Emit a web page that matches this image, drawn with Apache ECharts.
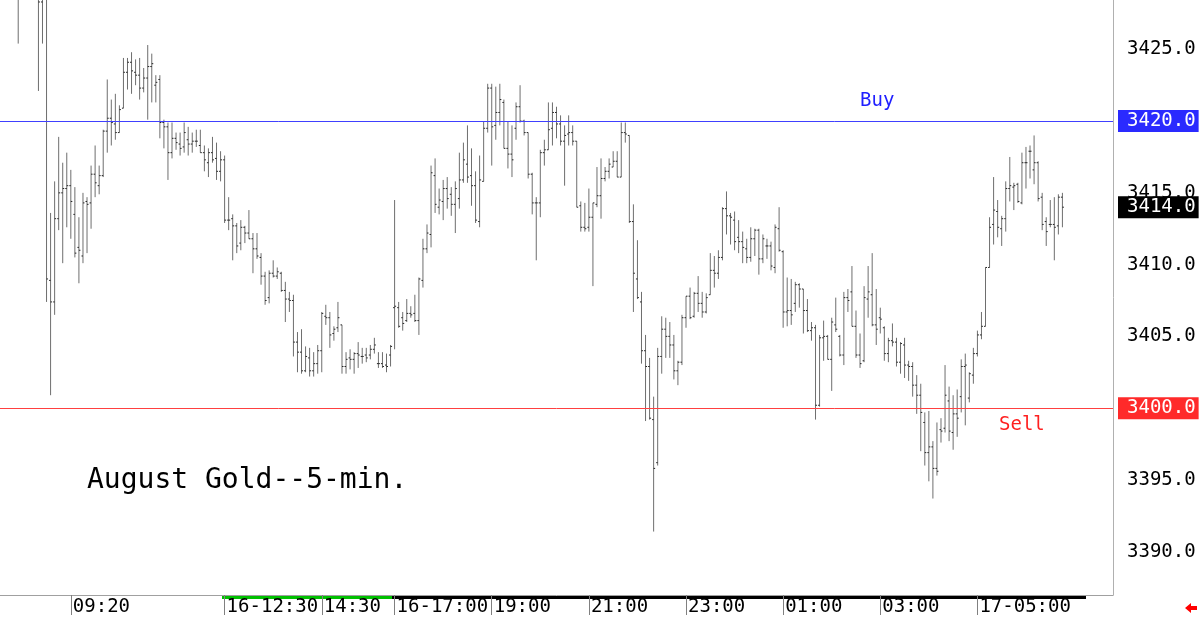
<!DOCTYPE html>
<html><head><meta charset="utf-8">
<script src="https://cdn.jsdelivr.net/npm/echarts@6/dist/echarts.min.js"></script>
<style>html,body{margin:0;padding:0;background:#fff}#c{width:1200px;height:617px}</style>
</head><body><div id="c"></div>
<script>
// ---- data (5-minute OHLC bars) ----
const opens = [
3429.5,3429.0,3430.5,3431.0,3430.2,3428.9,3428.3,3429.0,3408.9,3407.4,
3413.2,3415.0,3415.3,3415.5,3413.5,3411.2,3410.6,3414.4,3414.3,3416.3,
3415.5,3416.2,3419.3,3420.2,3419.8,3419.2,3420.9,3423.4,3424.1,3423.4,
3423.2,3422.3,3423.0,3423.8,3422.5,3422.9,3419.9,3419.6,3417.8,3418.8,
3418.4,3418.2,3418.7,3418.4,3418.6,3418.3,3417.8,3417.1,3417.8,3417.4,
3416.5,3417.3,3413.1,3413.2,3412.7,3411.5,3412.6,3412.2,3411.8,3411.1,
3410.5,3409.2,3407.7,3409.4,3409.2,3409.4,3408.2,3407.6,3407.5,3404.6,
3403.9,3402.6,3403.5,3402.6,3403.1,3404.0,3406.4,3406.3,3405.2,3405.6,
3405.8,3402.9,3403.5,3403.4,3403.8,3403.6,3403.7,3403.7,3404.1,3403.1,
3403.1,3403.0,3403.7,3407.0,3407.0,3406.3,3406.1,3406.6,3406.6,3406.1,
3408.9,3411.1,3412.1,3416.2,3414.0,3414.4,3415.3,3414.9,3414.2,3414.6,
3415.9,3417.0,3416.2,3415.5,3413.0,3415.8,3419.5,3422.3,3419.7,3420.6,
3421.3,3418.1,3417.7,3419.5,3421.0,3420.0,3419.2,3416.3,3414.3,3414.3,
3417.8,3418.0,3419.5,3420.6,3419.8,3418.6,3419.1,3419.2,3418.6,3414.1,
3412.6,3412.6,3413.3,3414.2,3414.8,3416.0,3416.5,3416.8,3417.2,3416.1,
3419.2,3419.0,3413.0,3409.0,3407.4,3404.0,3402.9,3399.2,3396.2,3403.6,
3405.5,3405.0,3404.4,3402.6,3403.2,3406.3,3407.8,3406.4,3408.0,3407.3,
3406.7,3407.9,3409.6,3409.4,3410.5,3413.9,3413.4,3413.1,3411.9,3411.6,
3411.1,3410.5,3411.8,3412.4,3410.4,3411.3,3411.3,3409.8,3412.5,3410.9,
3406.7,3406.8,3407.3,3408.6,3408.3,3406.8,3405.4,3405.6,3400.2,3404.9,
3405.0,3403.4,3405.8,3405.0,3403.7,3407.7,3408.1,3405.7,3403.7,3403.3,
3407.6,3407.9,3405.8,3406.3,3405.6,3403.8,3404.7,3404.6,3403.2,3404.4,
3403.0,3402.9,3401.6,3400.9,3399.0,3396.9,3397.3,3395.8,3398.5,3398.6,
3400.5,3398.3,3399.6,3400.8,3402.9,3400.7,3402.3,3403.8,3405.1,3405.7,
3409.8,3412.8,3413.7,3412.5,3413.2,3415.3,3415.4,3415.6,3414.3,3417.1,
3417.9,3416.6,3417.1,3414.7,3413.0,3412.8,3412.8,3412.7,3414.7
];
const highs = [
3431.0,3431.5,3432.0,3432.5,3431.0,3430.0,3430.0,3429.6,3413.6,3415.8,
3418.9,3417.1,3417.8,3416.6,3415.4,3413.3,3415.0,3414.7,3416.9,3418.3,
3416.9,3419.4,3422.9,3421.5,3421.9,3421.1,3424.4,3424.4,3424.8,3424.3,
3424.4,3423.7,3425.3,3424.7,3423.2,3423.2,3420.1,3419.9,3419.9,3419.2,
3419.2,3419.9,3419.6,3419.2,3419.4,3419.4,3418.3,3418.1,3418.9,3418.5,
3417.9,3417.6,3414.7,3413.5,3412.9,3413.1,3412.7,3413.8,3412.2,3412.2,
3410.8,3409.5,3409.6,3410.3,3409.8,3409.5,3408.8,3408.1,3407.9,3405.3,
3405.5,3404.3,3404.2,3403.9,3404.4,3406.7,3407.2,3406.7,3405.7,3407.4,
3405.8,3403.9,3404.1,3403.9,3404.6,3404.2,3404.2,3404.4,3404.9,3403.9,
3403.9,3403.8,3404.4,3414.5,3407.4,3406.7,3407.6,3407.1,3407.9,3409.1,
3411.8,3412.8,3416.9,3417.4,3415.3,3415.9,3416.1,3415.4,3415.8,3417.8,
3418.5,3419.7,3418.1,3416.5,3417.6,3420.0,3422.6,3422.6,3422.4,3422.6,
3421.5,3420.0,3419.7,3421.3,3422.5,3420.1,3419.2,3416.4,3414.7,3418.0,
3418.7,3421.3,3421.3,3421.0,3420.4,3419.7,3420.4,3419.7,3418.6,3414.4,
3414.3,3415.3,3414.3,3416.8,3417.4,3416.8,3417.4,3417.9,3417.9,3419.9,
3419.9,3419.0,3414.2,3411.7,3408.1,3405.1,3403.5,3400.8,3404.2,3406.4,
3406.3,3406.0,3405.1,3403.3,3406.5,3407.8,3408.4,3408.1,3409.2,3408.1,
3408.0,3410.8,3410.6,3411.0,3414.0,3415.1,3413.6,3413.7,3413.1,3412.3,
3411.8,3412.6,3412.5,3412.5,3412.1,3411.8,3411.6,3412.8,3414.0,3411.0,
3409.1,3409.0,3408.8,3408.7,3408.3,3407.6,3406.0,3405.8,3405.1,3406.1,
3405.1,3406.3,3407.7,3405.1,3408.1,3408.3,3409.9,3406.8,3405.2,3408.5,
3409.9,3410.8,3408.3,3407.0,3405.7,3404.9,3405.9,3404.9,3404.6,3404.9,
3403.3,3403.2,3402.3,3401.7,3399.7,3399.8,3397.7,3399.0,3399.3,3403.0,
3401.5,3400.9,3401.3,3403.4,3403.8,3402.5,3404.2,3405.4,3406.7,3409.8,
3413.3,3416.1,3414.5,3413.4,3415.8,3417.5,3415.7,3415.7,3417.8,3418.2,
3418.3,3419.0,3417.2,3415.0,3413.3,3414.5,3414.7,3414.9,3415.0
];
const lows = [
3425.4,3428.6,3429.5,3429.8,3428.8,3422.1,3425.4,3407.4,3400.9,3406.5,
3412.4,3410.1,3412.6,3411.8,3410.5,3408.7,3410.1,3410.8,3412.5,3414.7,
3414.9,3416.1,3417.8,3418.3,3418.7,3419.2,3420.9,3422.2,3421.9,3422.5,
3421.5,3422.0,3420.1,3421.3,3421.3,3418.8,3418.1,3415.9,3417.4,3418.0,
3417.6,3417.8,3417.6,3417.8,3418.2,3417.8,3416.5,3416.1,3417.1,3415.9,
3415.8,3412.9,3412.4,3410.3,3410.8,3411.0,3411.5,3411.8,3409.4,3410.4,
3408.6,3407.2,3407.3,3409.1,3409.0,3408.1,3406.0,3406.7,3403.6,3402.5,
3402.4,3402.5,3402.2,3402.2,3402.4,3402.5,3405.8,3404.2,3404.7,3405.3,
3402.4,3402.4,3402.7,3402.4,3402.8,3403.1,3403.2,3403.4,3403.8,3402.8,
3402.8,3402.5,3402.9,3404.1,3405.6,3405.4,3406.0,3406.3,3406.0,3405.1,
3408.4,3410.8,3411.2,3413.6,3413.5,3413.1,3413.9,3413.4,3412.2,3413.9,
3415.7,3415.7,3414.1,3412.9,3412.6,3415.8,3419.2,3416.9,3418.7,3419.7,
3418.1,3416.7,3416.1,3418.7,3419.9,3419.0,3416.0,3413.5,3410.3,3413.3,
3416.9,3418.0,3418.3,3418.8,3418.3,3415.5,3418.3,3418.3,3414.0,3412.3,
3412.3,3412.3,3408.5,3414.0,3413.2,3415.8,3416.0,3416.8,3416.1,3416.1,
3418.5,3412.9,3406.7,3407.6,3403.1,3399.1,3399.2,3391.4,3396.0,3402.4,
3403.5,3403.5,3402.0,3401.6,3403.0,3405.6,3406.2,3406.3,3406.7,3406.3,
3406.6,3407.9,3408.4,3409.0,3410.3,3412.1,3411.4,3411.0,3410.8,3410.1,
3410.1,3410.2,3410.6,3409.3,3410.1,3410.4,3409.6,3409.4,3410.9,3405.6,
3405.7,3405.8,3406.7,3407.0,3405.2,3405.3,3404.7,3399.2,3400.1,3403.3,
3403.4,3401.2,3405.3,3403.6,3403.0,3406.7,3405.7,3403.5,3402.8,3403.2,
3406.3,3405.7,3404.4,3405.2,3403.3,3403.2,3404.3,3402.9,3402.4,3402.1,
3401.9,3400.8,3399.6,3397.0,3396.0,3394.9,3393.7,3395.3,3397.6,3398.3,
3397.7,3397.1,3398.0,3399.7,3398.8,3400.4,3401.7,3403.6,3404.8,3405.7,
3409.8,3411.4,3411.9,3411.3,3412.3,3414.4,3413.8,3414.3,3414.2,3415.3,
3416.0,3415.6,3414.4,3412.4,3411.3,3412.6,3410.3,3412.1,3412.6
];
const closes = [
3429.0,3430.5,3431.0,3430.2,3429.2,3428.3,3429.0,3409.0,3407.4,3413.2,
3415.0,3415.3,3415.5,3414.4,3410.8,3411.0,3414.3,3414.2,3416.3,3415.7,
3416.2,3419.3,3420.2,3419.9,3419.2,3420.8,3423.4,3424.1,3423.5,3423.2,
3422.3,3423.0,3423.8,3424.0,3422.7,3419.9,3419.6,3417.8,3418.8,3418.5,
3418.1,3419.2,3418.4,3418.6,3418.6,3417.8,3417.3,3417.8,3417.3,3416.5,
3417.3,3413.1,3413.1,3412.7,3411.3,3412.6,3412.2,3411.8,3411.1,3410.6,
3409.2,3407.5,3409.4,3409.2,3409.5,3408.2,3407.6,3407.5,3404.6,3403.9,
3402.6,3403.6,3402.6,3403.1,3404.0,3406.6,3406.3,3405.1,3405.5,3406.3,
3402.9,3403.4,3403.4,3403.8,3403.7,3403.6,3403.5,3404.1,3404.4,3403.1,
3402.9,3402.9,3404.3,3407.1,3405.7,3405.9,3406.6,3406.5,3406.1,3409.0,
3411.1,3412.2,3416.4,3414.2,3414.5,3415.3,3414.6,3414.2,3415.3,3415.9,
3417.3,3416.1,3415.5,3413.1,3415.9,3419.5,3422.3,3419.6,3420.6,3421.5,
3418.1,3417.7,3417.3,3421.0,3420.0,3419.2,3416.3,3414.3,3414.3,3417.8,
3418.0,3419.4,3420.6,3419.8,3418.6,3419.0,3419.2,3418.6,3414.0,3412.6,
3412.5,3413.3,3414.3,3414.8,3416.0,3416.5,3417.0,3417.2,3416.1,3419.2,
3419.1,3413.0,3409.4,3407.7,3404.0,3402.9,3399.3,3395.8,3403.6,3405.5,
3405.0,3404.4,3402.6,3403.2,3406.3,3407.8,3406.3,3408.0,3407.3,3406.7,
3407.7,3409.6,3409.4,3410.5,3413.9,3413.4,3413.3,3411.6,3411.6,3411.2,
3410.5,3411.8,3412.4,3410.4,3411.8,3411.3,3409.9,3412.6,3411.0,3406.7,
3406.8,3406.5,3408.6,3408.3,3406.8,3405.4,3405.6,3400.2,3404.9,3405.0,
3403.4,3406.0,3405.5,3403.7,3407.7,3407.5,3405.7,3403.7,3403.1,3407.7,
3408.1,3405.8,3405.5,3406.2,3403.8,3404.7,3404.6,3403.2,3404.5,3403.0,
3402.9,3401.6,3400.9,3399.7,3396.9,3397.3,3395.8,3395.6,3398.4,3400.9,
3398.4,3399.6,3399.3,3402.9,3403.0,3402.4,3403.8,3405.1,3405.7,3409.8,
3412.6,3413.8,3412.6,3413.2,3415.3,3415.5,3415.5,3414.4,3417.1,3417.1,
3417.9,3417.1,3414.6,3412.8,3412.3,3412.8,3412.6,3414.7,3414.0
];
// x tick labels: [bar index, text]
const xTickLabels = [[13,'09:20'],[51,'16-12:30'],[75,'14:30'],[93,'16-17:00'],[117,'19:00'],
                     [141,'21:00'],[165,'23:00'],[189,'01:00'],[213,'03:00'],[237,'17-05:00']];
const yTickLabels = [3425, 3415, 3410, 3405, 3395, 3390];
const buyLevel = 3420, sellLevel = 3400, lastPrice = 3414.0;
const titleText = 'August Gold--5-min.';
const yMin = 3386.979, yMax = 3428.4375;
const padBefore = 4, padAfter = 12;

// ---- build ----
const FONT = '"DejaVu Sans Mono", "Liberation Mono", monospace';
const N = padBefore + opens.length + padAfter;
const categories = [];
for (let k = 0; k < N; k++) categories.push(String(k));
const labelMap = {};
xTickLabels.forEach(([i, t]) => { labelMap[i + padBefore] = t; });
const ohlc = opens.map((o, i) => [i + padBefore, o, closes[i], lows[i], highs[i]]);
const showLab = (i) => labelMap[i] !== undefined;
const CLEAR = 'rgba(0,0,0,0)';

function renderItem(params, api) {
  const x = api.value(0);
  const pO = api.coord([x, api.value(1)]);
  const pC = api.coord([x, api.value(2)]);
  const pL = api.coord([x, api.value(3)]);
  const pH = api.coord([x, api.value(4)]);
  const cx = pH[0];
  return { type: 'group', children: [
    { type: 'line', shape: { x1: cx, y1: pH[1], x2: cx, y2: pL[1] }, style: { stroke: '#6e6e6e', lineWidth: 1 } },
    { type: 'line', shape: { x1: cx - 1.5, y1: pO[1], x2: cx, y2: pO[1] }, style: { stroke: '#222', lineWidth: 1 } },
    { type: 'line', shape: { x1: cx, y1: pC[1], x2: cx + 1.5, y2: pC[1] }, style: { stroke: '#222', lineWidth: 1 } }
  ]};
}

const chart = echarts.init(document.getElementById('c'), null, { renderer: 'canvas' });
chart.setOption({
  animation: false,
  backgroundColor: '#ffffff',
  grid: { left: 0, top: 0, width: 1113, height: 597 },
  xAxis: {
    type: 'category', data: categories, boundaryGap: true,
    axisLine: { show: true, lineStyle: { color: '#a0a0a0', width: 1 } },
    axisTick: { show: true, interval: showLab, alignWithLabel: true, length: 20, lineStyle: { color: '#808080' } },
    axisLabel: { show: true, interval: showLab, formatter: (v, i) => labelMap[i] || '', align: 'left',
                 margin: 3, padding: [0, 0, 0, 2], fontFamily: FONT, fontSize: 19, color: '#000' },
    splitLine: { show: false }
  },
  yAxis: {
    type: 'value', position: 'right', min: yMin, max: yMax,
    axisLine: { show: true, lineStyle: { color: '#b0b0b0' } },
    axisTick: { show: false }, axisLabel: { show: false }, splitLine: { show: false }
  },
  series: [
    { type: 'custom', renderItem, data: ohlc, clip: true, z: 2,
      encode: { x: 0, y: [1, 2, 3, 4] } },
    { type: 'line', data: [], z: 3, silent: true,
      markLine: { silent: true, symbol: 'none', animation: false,
        lineStyle: { color: CLEAR, width: 0 },
        label: { show: true, position: 'end', distance: 14, formatter: (p) => Number(p.value).toFixed(1),
                 fontFamily: FONT, fontSize: 19, color: '#000' },
        data: yTickLabels.map(v => ({ yAxis: v })) } },
    { type: 'line', data: [], z: 4, silent: true,
      markLine: { silent: true, symbol: 'none', animation: false,
        label: { show: true, position: 'end', distance: 5, formatter: (p) => Number(p.value).toFixed(1),
                 fontFamily: FONT, fontSize: 19, color: '#fff', padding: [2, 3, 1, 9] },
        data: [
          { yAxis: buyLevel, lineStyle: { color: '#4040ff', width: 1, type: 'solid', opacity: 1 },
            label: { backgroundColor: '#2a2aff' } },
          { yAxis: sellLevel, lineStyle: { color: '#ff4040', width: 1, type: 'solid', opacity: 1 },
            label: { backgroundColor: '#ff2a2a' } },
          { yAxis: lastPrice, lineStyle: { color: CLEAR, width: 0 },
            label: { backgroundColor: '#000' } }
        ] } }
  ],
  graphic: [
    { type: 'text', left: 87, top: 467, style: { text: titleText, font: '28px ' + FONT, fill: '#000' } },
    { type: 'text', left: 860, top: 92, style: { text: 'Buy', font: '19px ' + FONT, fill: '#2020ff' } },
    { type: 'text', left: 999, top: 416, style: { text: 'Sell', font: '19px ' + FONT, fill: '#ff2020' } },
    { type: 'rect', shape: { x: 222, y: 596, width: 170, height: 3 }, style: { fill: '#00c000' } },
    { type: 'rect', shape: { x: 392, y: 596, width: 694, height: 3 }, style: { fill: '#000' } },
    { type: 'polygon', shape: { points: [[1185,608],[1191,603],[1191,606],[1197,606],[1197,610],[1191,610],[1191,613]] },
      style: { fill: '#ff0000' } }
  ]
});
</script>
</body></html>
